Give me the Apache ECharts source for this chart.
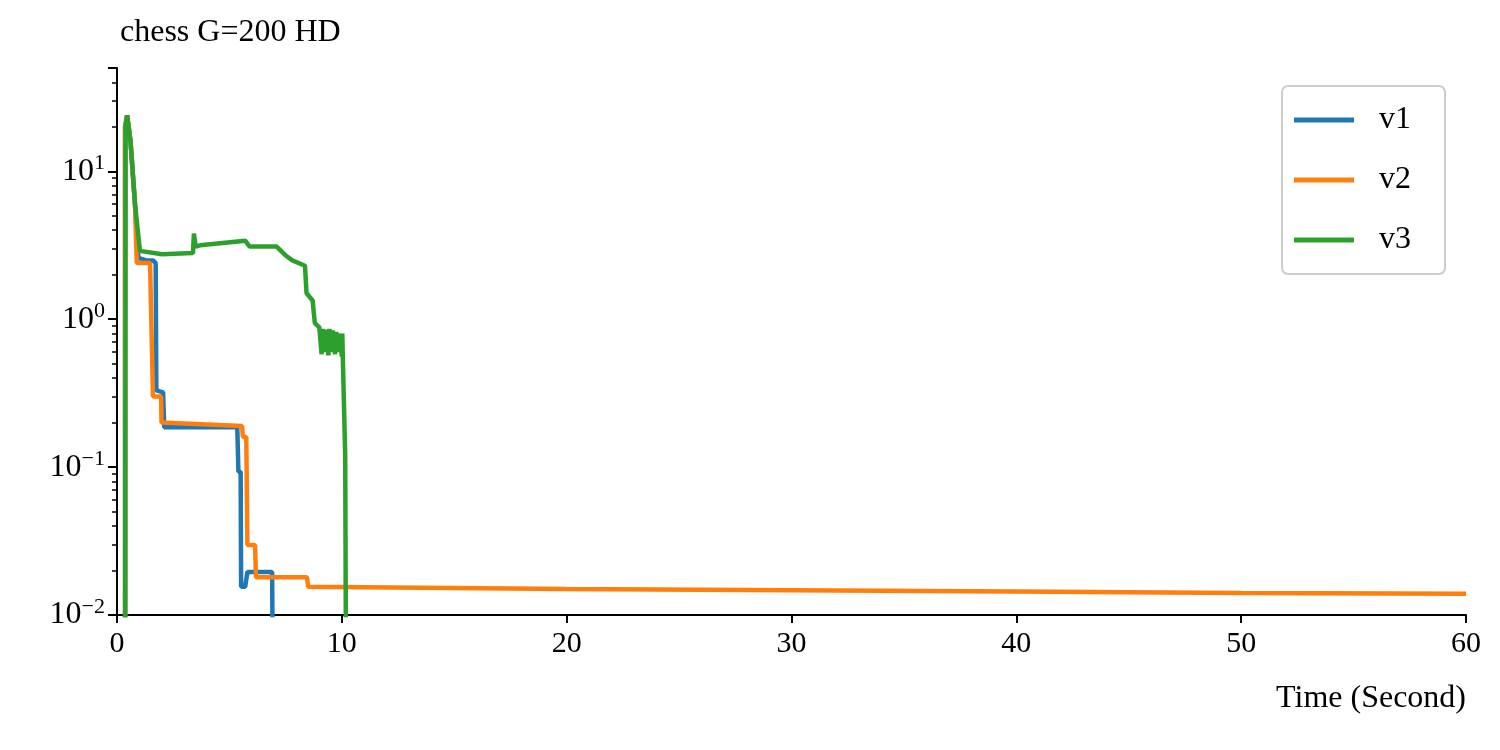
<!DOCTYPE html>
<html>
<head>
<meta charset="utf-8">
<script src="https://cdn.jsdelivr.net/npm/echarts@6/dist/echarts.min.js"></script>
<style>html,body{margin:0;padding:0;background:#fff}#main{width:1500px;height:750px}</style>
</head>
<body>
<div id="main"></div>
<script>
// values; 0.001 = dropped below the axis
var v1 = [[0.36,0.001],[0.36,20],[0.45,23.9],[0.6,16],[0.8,6],[0.95,2.6],[1.3,2.5],[1.6,2.5],[1.72,2.4],[1.75,0.33],[2.05,0.32],[2.1,0.186],
  [5.35,0.186],[5.4,0.093],[5.5,0.093],[5.52,0.0155],[5.7,0.0155],[5.8,0.0195],[6.9,0.0195],[6.95,0.001]];
var v2 = [[0.36,0.001],[0.36,20],[0.45,23.9],[0.6,16],[0.8,6],[0.88,2.4],[1.47,2.4],[1.6,0.30],[1.96,0.30],[1.98,0.20],
  [5.56,0.19],[5.6,0.16],[5.75,0.16],[5.8,0.0297],[6.14,0.0297],[6.18,0.018],[8.45,0.018],[8.5,0.0155],
  [20,0.0150],[30,0.0147],[40,0.0144],[50,0.0141],[60,0.0139]];
var v3 = [[0.36,0.001],[0.38,20],[0.45,23.9],[0.6,16],[0.8,6],[1.02,2.9],[2,2.75],[3.38,2.8],[3.42,3.8],[3.5,3.1],[3.7,3.16],
  [5.7,3.4],[5.9,3.1],[7.1,3.1],[7.5,2.7],[7.8,2.5],[8.36,2.3],[8.43,1.5],[8.7,1.34],[8.8,0.94],[9.0,0.88],
  [9.1,0.58],[9.15,0.86],[9.25,0.6],[9.3,0.85],[9.4,0.57],[9.45,0.86],[9.55,0.6],[9.6,0.84],[9.7,0.58],[9.75,0.82],
  [9.85,0.6],[9.9,0.8],[10.0,0.56],[10.02,0.8],[10.05,0.5],[10.15,0.12],[10.2,0.001]];
var xTicks = [0,10,20,30,40,50,60];

var myChart = echarts.init(document.getElementById('main'));
var font = 'Liberation Serif';
var option = {
    animation: false,
    title: { text: 'chess G=200 HD', left: 115, top: 12,
        textStyle: { fontFamily: font, fontSize: 32, fontWeight: 'normal', color: '#000' } },
    legend: {
        data: ['v1','v2','v3'], orient: 'vertical', right: 55, top: 86,
        icon: 'rect', itemWidth: 60, itemHeight: 5, itemGap: 28,
        padding: [18, 34, 18, 12], borderColor: '#ccc', borderWidth: 2, borderRadius: 6,
        textStyle: { fontFamily: font, fontSize: 32, color: '#000', padding: [0,0,0,20] }
    },
    grid: { left: 117, right: 34, top: 68, bottom: 135 },
    xAxis: {
        type: 'value', min: 0, max: 60, interval: 10,
        name: 'Time (Second)', nameLocation: 'end', nameGap: 0,
        nameTextStyle: { fontFamily: font, fontSize: 32, color: '#000', align: 'right', verticalAlign: 'top', padding: [68, 0, 0, 0] },
        axisLine: { lineStyle: { color: '#000', width: 2 } },
        axisTick: { inside: false, length: 8, lineStyle: { width: 2 } },
        axisLabel: { fontFamily: font, fontSize: 30, color: '#000', margin: 14,
            formatter: function (v) { return xTicks.indexOf(v) >= 0 ? v : ''; } },
        splitLine: { show: false }
    },
    yAxis: {
        type: 'log', logBase: 10, min: 0.01, max: 50,
        axisLine: { show: true, lineStyle: { color: '#000', width: 2 } },
        axisTick: { show: true, length: 9, lineStyle: { width: 2 } },
        minorTick: { show: true, splitNumber: 9, length: 5, lineStyle: { color: '#000', width: 1.5 } },
        axisLabel: { fontFamily: font, fontSize: 32, color: '#000', margin: 12,
            formatter: function (v) {
                var e = Math.round(Math.log10(v));
                if (Math.abs(Math.log10(v) - e) > 1e-6) return '';
                return '10{s|' + String(e).replace('-', '\u2212') + '}';
            },
            rich: { s: { fontFamily: font, fontSize: 22, verticalAlign: 'top', padding: [0,0,16,0] } } },
        splitLine: { show: false }
    },
    series: [
        { name: 'v1', type: 'line', data: v1, showSymbol: false, clip: true, color: '#1f77b4', lineStyle: { width: 4.5 } },
        { name: 'v2', type: 'line', data: v2, showSymbol: false, clip: true, color: '#ff7f0e', lineStyle: { width: 4.5 } },
        { name: 'v3', type: 'line', data: v3, showSymbol: false, clip: true, color: '#2ca02c', lineStyle: { width: 4.5 } }
    ]
};
myChart.setOption(option);
</script>
</body>
</html>
